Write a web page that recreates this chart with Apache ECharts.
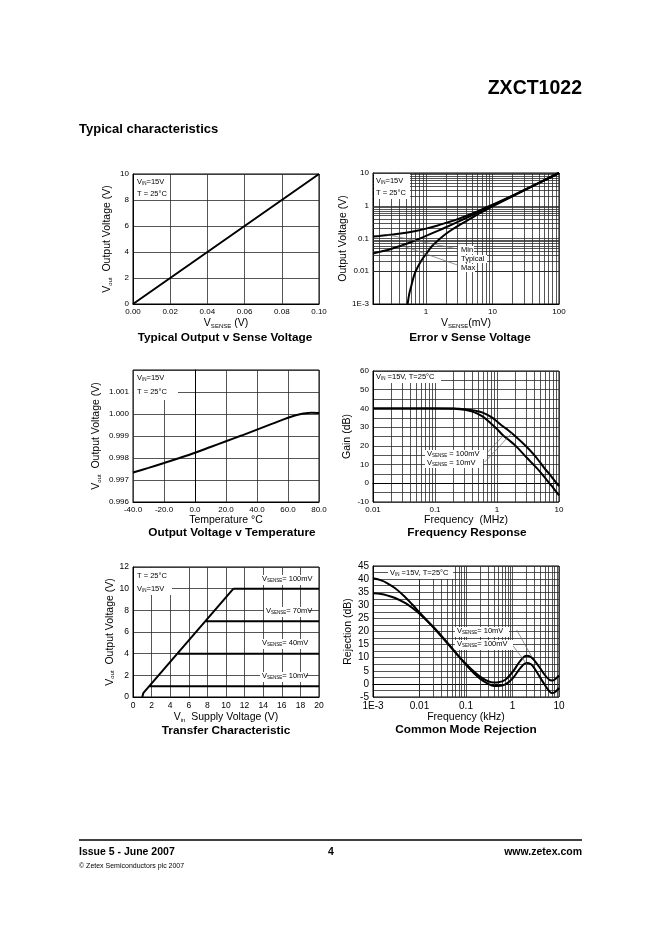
<!DOCTYPE html>
<html><head><meta charset="utf-8">
<script src="https://cdn.jsdelivr.net/npm/echarts@6/dist/echarts.min.js"></script>
<style>html,body{margin:0;padding:0;background:#fff}#c{width:662px;height:936px}</style>
</head><body><div id="c"></div>
<script>
// ================= DATA =================
// Chart 1: Typical Output v Sense Voltage
const c1Sense = [0, 0.02, 0.04, 0.06, 0.08, 0.10];
const c1Out = [0, 2, 4, 6, 8, 10];
const c1XTicks = [0, 0.02, 0.04, 0.06, 0.08, 0.10];
const c1XLabels = ['0.00', '0.02', '0.04', '0.06', '0.08', '0.10'];
const c1YTicks = [0, 2, 4, 6, 8, 10];
const c1YLabels = ['0', '2', '4', '6', '8', '10'];

// Chart 2: Error v Sense Voltage (x: mV, y: V)
const c2MaxX = [0.16, 0.2, 0.3, 0.5, 0.7, 1, 1.5, 2, 3, 5, 7, 10, 20, 50, 100];
const c2MaxY = [0.115, 0.12, 0.13, 0.15, 0.17, 0.2, 0.25, 0.3, 0.39, 0.58, 0.78, 1.08, 2.05, 5.0, 10.0];
const c2TypX = [0.16, 0.2, 0.3, 0.5, 0.7, 1, 1.5, 2, 3, 5, 7, 10, 20, 50, 100];
const c2TypY = [0.035, 0.039, 0.048, 0.068, 0.088, 0.12, 0.17, 0.22, 0.32, 0.52, 0.72, 1.02, 2.0, 5.0, 10.0];
const c2MinX = [0.53, 0.56, 0.6, 0.65, 0.7, 0.8, 0.9, 1, 1.2, 1.5, 2, 3, 5, 7, 10, 20, 50, 100];
const c2MinY = [0.001, 0.002, 0.0035, 0.0065, 0.01, 0.017, 0.025, 0.033, 0.055, 0.085, 0.14, 0.24, 0.44, 0.65, 0.95, 1.95, 5.0, 10.0];
const c2LeadMinX = [0.254, 3.27];
const c2LeadMinY = [0.132, 0.046];
const c2LeadMaxX = [0.43, 3.27];
const c2LeadMaxY = [0.061, 0.0145];
const c2XTicks = [1, 10, 100];
const c2XLabels = ['1', '10', '100'];
const c2YTicks = [0.001, 0.01, 0.1, 1, 10];
const c2YLabels = ['1E-3', '0.01', '0.1', '1', '10'];

// Chart 3: Output Voltage v Temperature
const c3Temp = [-40, -30, -20, -10, 0, 10, 20, 30, 40, 50, 60, 65, 70, 75, 80];
const c3Vout = [0.99734, 0.99755, 0.99777, 0.99800, 0.99824, 0.99850, 0.99876, 0.99902, 0.99929, 0.99956, 0.99983, 0.99994, 1.00002, 1.00006, 1.00004];
const c3XTicks = [-40, -20, 0, 20, 40, 60, 80];
const c3XLabels = ['-40.0', '-20.0', '0.0', '20.0', '40.0', '60.0', '80.0'];
const c3YTicks = [0.996, 0.997, 0.998, 0.999, 1.000, 1.001];
const c3YLabels = ['0.996', '0.997', '0.998', '0.999', '1.000', '1.001'];

// Chart 4: Frequency Response (x: MHz, y: dB)
const c4Freq = [0.01, 0.05, 0.1, 0.2, 0.3, 0.4, 0.5, 0.6, 0.8, 1, 1.26, 1.5, 2, 3, 4, 5, 6, 7, 8, 10];
const c4Gain100 = [40, 40, 40, 39.9, 39.6, 39.1, 38.4, 37.6, 35.5, 33, 30.3, 28.5, 25, 19.5, 15, 11, 7.5, 5, 2.5, -1.5];
const c4Gain10 = [40, 40, 40, 39.8, 39.3, 38.3, 37, 35.5, 32, 29, 25.5, 23.5, 20, 13.8, 9.5, 6, 2.8, 0, -2.3, -6.5];
const c4Lead100X = [0.64, 1.26];
const c4Lead100Y = [15.1, 25.5];
const c4Lead10X = [0.64, 1.73];
const c4Lead10Y = [11.5, 26.8];
const c4XTicks = [0.01, 0.1, 1, 10];
const c4XLabels = ['0.01', '0.1', '1', '10'];
const c4YTicks = [-10, 0, 10, 20, 30, 40, 50, 60];
const c4YLabels = ['-10', '0', '10', '20', '30', '40', '50', '60'];

// Chart 5: Transfer Characteristic
const c5RampVin = [1.0, 1.1, 10.8];
const c5RampOut = [0, 0.35, 10];
const c5L100Vin = [10.8, 20];
const c5L100Out = [10, 10];
const c5L70Vin = [7.85, 20];
const c5L70Out = [7, 7];
const c5L40Vin = [4.85, 20];
const c5L40Out = [4, 4];
const c5L10Vin = [1.8, 20];
const c5L10Out = [1, 1];
const c5XTicks = [0, 2, 4, 6, 8, 10, 12, 14, 16, 18, 20];
const c5XLabels = ['0', '2', '4', '6', '8', '10', '12', '14', '16', '18', '20'];
const c5YTicks = [0, 2, 4, 6, 8, 10, 12];
const c5YLabels = ['0', '2', '4', '6', '8', '10', '12'];

// Chart 6: Common Mode Rejection (x: kHz, y: dB)
const c6Freq = [0.001, 0.0015, 0.002, 0.003, 0.005, 0.007, 0.01, 0.02, 0.03, 0.05, 0.07, 0.1, 0.15, 0.2, 0.3, 0.4, 0.5, 0.7, 1, 1.5, 2, 2.5, 3, 4, 5, 6, 7, 8, 10];
const c6Rej10 = [40.3, 39.5, 38.5, 36.5, 33, 30.3, 27.3, 21.5, 18, 13.5, 10.5, 7.6, 4.6, 2.8, 1, 0.5, 0.6, 1.6, 4.5, 9, 10.7, 10.2, 8.8, 5.8, 3.3, 1.8, 1.3, 1.6, 3.2];
const c6Rej100 = [34.6, 34.3, 33.8, 32.8, 30.8, 29, 26.8, 21.7, 18.2, 13.6, 10.5, 7.3, 4, 2, 0, -0.8, -0.8, -0.2, 2, 6.2, 8, 7.5, 5.8, 2.2, -0.5, -2.5, -3.5, -3.3, -1.5];
const c6Lead10X = [1.23, 2.59];
const c6Lead10Y = [20.6, 10.4];
const c6Lead100X = [1.0, 2.02];
const c6Lead100Y = [14.8, 7.6];
const c6XTicks = [0.001, 0.01, 0.1, 1, 10];
const c6XLabels = ['1E-3', '0.01', '0.1', '1', '10'];
const c6YTicks = [-5, 0, 5, 10, 15, 20, 25, 30, 35, 40, 45];
const c6YLabels = ['-5', '0', '5', '10', '15', '20', '25', '30', '35', '40', '45'];

// ================= HELPERS =================
const FONT = '"Liberation Sans", Arial, Helvetica, sans-serif';
const GRIDC = '#2b2b2b';
function pairs(xs, ys) { return xs.map((x, i) => [x, ys[i]]); }
function fmt(ticks, labels, isLog) {
  return function (v) {
    for (let i = 0; i < ticks.length; i++) {
      if (isLog) { if (Math.abs(Math.log10(v) - Math.log10(ticks[i])) < 1e-6) return labels[i]; }
      else if (Math.abs(v - ticks[i]) < 1e-7) return labels[i];
    }
    return '';
  };
}
function logLines(e0, e1, from) {
  const out = [];
  for (let e = e0; e <= e1; e++) {
    for (let k = 1; k <= 9; k++) {
      const v = k * Math.pow(10, e);
      if (v >= from * 1.0001 && e + Math.log10(k) <= e1 + 1e-9) out.push(+v.toPrecision(6));
    }
  }
  return out;
}
function richSet(fs, sub, drop) {
  return {
    n: { fontSize: fs, fontFamily: FONT, color: '#000', fill: '#000', lineHeight: fs + 1, verticalAlign: 'top' },
    s: { fontSize: sub, fontFamily: FONT, color: '#000', fill: '#000', lineHeight: sub, verticalAlign: 'bottom', padding: [drop, 0, 0, 0] }
  };
}
const nameRich = richSet(10.5, 6, 6);
const nameStyle = { fontFamily: FONT, fontSize: 10.5, color: '#000', rich: nameRich };

function grid(left, top, width, height) {
  return { left, top, width, height, show: true, borderColor: '#000', borderWidth: 1, containLabel: false };
}
function linAxis(gi, min, max, interval, ticks, labels, fs, extra) {
  return Object.assign({
    type: 'value', gridIndex: gi, min, max, interval,
    axisLine: { show: true, lineStyle: { color: '#000', width: 1 } },
    axisTick: { show: false },
    axisLabel: { fontFamily: FONT, fontSize: fs, color: '#000', margin: 4, formatter: fmt(ticks, labels, false) },
    splitLine: { show: true, lineStyle: { color: GRIDC, width: 0.8 } },
    nameTextStyle: nameStyle, nameLocation: 'middle'
  }, extra || {});
}
function logAxis(gi, min, max, ticks, labels, fs, extra) {
  return Object.assign({
    type: 'log', logBase: 10, gridIndex: gi, min, max,
    axisLine: { show: true, lineStyle: { color: '#000', width: 1 } },
    axisTick: { show: false },
    axisLabel: { fontFamily: FONT, fontSize: fs, color: '#000', margin: 4, formatter: fmt(ticks, labels, true), showMinLabel: true, showMaxLabel: true },
    splitLine: { show: false },
    nameTextStyle: nameStyle, nameLocation: 'middle'
  }, extra || {});
}
function curve(xi, yi, data, w, smooth) {
  return { type: 'line', xAxisIndex: xi, yAxisIndex: yi, data, showSymbol: false, symbol: 'none', smooth: smooth ? 0.35 : false,
    lineStyle: { color: '#000', width: w || 2 }, z: 5, silent: true, clip: true };
}
function leader(xi, yi, data) {
  return { type: 'line', xAxisIndex: xi, yAxisIndex: yi, data, showSymbol: false, symbol: 'none',
    lineStyle: { color: '#666', width: 0.7 }, z: 6, silent: true };
}
function gridLines(xi, yi, xs, ys, anchor) {
  const d = [];
  xs.forEach(v => d.push({ xAxis: v }));
  ys.forEach(v => d.push({ yAxis: v }));
  return { type: 'line', xAxisIndex: xi, yAxisIndex: yi, data: [anchor], showSymbol: false, symbol: 'none',
    lineStyle: { opacity: 0 }, z: 1, silent: true,
    markLine: { silent: true, symbol: ['none', 'none'], animation: false, label: { show: false },
      lineStyle: { color: GRIDC, width: 0.8, type: 'solid' }, emphasis: { disabled: true }, data: d } };
}

// ================= GRAPHIC TEXT =================
const G = [];
function T(x, y, text, font, align, extra) {
  const st = Object.assign({ text, x, y, font, fill: '#000', textAlign: align || 'left', align: align || 'left',
    textVerticalAlign: 'middle', verticalAlign: 'middle' }, extra || {});
  G.push({ type: 'text', z: 100, silent: true, style: st });
}
function R(x, y, w, h) {
  G.push({ type: 'rect', z: 90, silent: true, shape: { x, y, width: w, height: h }, style: { fill: '#fff' } });
}
const annRich = richSet(7.5, 4.5, 4);
function A(x, y, text, align) {
  T(x, y, text, '7.5px ' + FONT, align || 'left', { rich: annRich });
}

// page header / footer
T(582, 89, 'ZXCT1022', 'bold 19.5px ' + FONT, 'right');
T(79, 129, 'Typical characteristics', 'bold 13px ' + FONT, 'left');
G.push({ type: 'line', z: 100, silent: true, shape: { x1: 79, y1: 840, x2: 582, y2: 840 }, style: { stroke: '#000', lineWidth: 1.5 } });
T(79, 852, 'Issue 5 - June 2007', 'bold 10.5px ' + FONT, 'left');
T(331, 852, '4', 'bold 10.5px ' + FONT, 'center');
T(582, 852, 'www.zetex.com', 'bold 10.5px ' + FONT, 'right');
T(79, 866, '\u00A9 Zetex Semiconductors plc 2007', '7px ' + FONT, 'left');

// chart titles
const TF = 'bold 11.8px ' + FONT;
T(225, 338, 'Typical Output v Sense Voltage', TF, 'center');
T(470, 338, 'Error v Sense Voltage', TF, 'center');
T(232, 533, 'Output Voltage v Temperature', TF, 'center');
T(467, 533, 'Frequency Response', TF, 'center');
T(226, 731, 'Transfer Characteristic', TF, 'center');
T(466, 730, 'Common Mode Rejection', TF, 'center');

// annotation boxes
R(134, 175, 34, 25);
A(137, 182, '{n|V}{s|IN}{n|=15V}');
A(137, 194, '{n|T = 25\u00B0C}');
R(374, 174, 36, 25);
A(376, 181, '{n|V}{s|IN}{n|=15V}');
A(376, 193, '{n|T = 25\u00B0C}');
R(134, 371, 44, 29);
A(137, 378, '{n|V}{s|IN}{n|=15V}');
A(137, 392, '{n|T = 25\u00B0C}');
R(374, 372, 67, 11);
A(376, 377, '{n|V}{s|IN}{n| =15V, T=25\u00B0C}');
R(134, 568, 38, 27);
A(137, 576, '{n|T = 25\u00B0C}');
A(137, 589, '{n|V}{s|IN}{n|=15V}');
R(388, 567, 65, 12);
A(390, 573, '{n|V}{s|IN}{n| =15V, T=25\u00B0C}');

// in-chart curve labels
R(458, 246, 16, 8); A(461, 250, '{n|Min}');
R(458, 255, 29, 8); A(461, 259, '{n|Typical}');
R(458, 264, 17, 8); A(461, 268, '{n|Max}');
R(425, 450, 62, 9); A(427, 454, '{n|V}{s|SENSE}{n| = 100mV}');
R(425, 459, 58, 9); A(427, 463, '{n|V}{s|SENSE}{n| = 10mV}');
R(260, 575, 50, 10); A(262, 579, '{n|V}{s|SENSE}{n|= 100mV}');
R(264, 607, 45, 10); A(266, 611, '{n|V}{s|SENSE}{n|= 70mV}');
R(260, 639, 44, 10); A(262, 643, '{n|V}{s|SENSE}{n|= 40mV}');
R(260, 672, 46, 10); A(262, 676, '{n|V}{s|SENSE}{n|= 10mV}');
R(455, 627, 54, 10); A(457, 631, '{n|V}{s|SENSE}{n|= 10mV}');
R(455, 640, 58, 10); A(457, 644, '{n|V}{s|SENSE}{n|= 100mV}');

// ================= OPTION =================
const option = {
  animation: false,
  backgroundColor: '#fff',
  grid: [
    grid(133, 174, 186, 130),
    grid(373, 173, 186, 131),
    grid(133, 370, 186, 132),
    grid(373, 371, 186, 131),
    grid(133, 567, 186, 130),
    grid(373, 566, 186, 131)
  ],
  xAxis: [
    linAxis(0, 0, 0.1, 0.02, c1XTicks, c1XLabels, 8, { name: '{n|V}{s|SENSE}{n| (V)}', nameGap: 11 }),
    logAxis(1, 0.16, 100, c2XTicks, c2XLabels, 8, { name: '{n|V}{s|SENSE}{n|(mV)}', nameGap: 11 }),
    linAxis(2, -40, 80, 20, c3XTicks, c3XLabels, 8, { name: '{n|Temperature \u00B0C}', nameGap: 12 }),
    logAxis(3, 0.01, 10, c4XTicks, c4XLabels, 8, { name: '{n|Frequency  (MHz)}', nameGap: 12 }),
    linAxis(4, 0, 20, 2, c5XTicks, c5XLabels, 8.5, { name: '{n|V}{s|in}{n|  Supply Voltage (V)}', nameGap: 12 }),
    logAxis(5, 0.001, 10, c6XTicks, c6XLabels, 10, { name: '{n|Frequency (kHz)}', nameGap: 13 })
  ],
  yAxis: [
    linAxis(0, 0, 10, 2, c1YTicks, c1YLabels, 8, { name: '{n|V}{s|out}{n|  Output Voltage (V)}', nameGap: 20 }),
    logAxis(1, 0.001, 10, c2YTicks, c2YLabels, 8, { name: '{n|Output Voltage (V)}', nameGap: 24 }),
    linAxis(2, 0.996, 1.002, 0.001, c3YTicks, c3YLabels, 8, { name: '{n|V}{s|out}{n|  Output Voltage (V)}', nameGap: 31 }),
    linAxis(3, -10, 60, 10, c4YTicks, c4YLabels, 8, { name: '{n|Gain (dB)}', nameGap: 20,
      minorTick: { show: false, splitNumber: 2 }, minorSplitLine: { show: true, lineStyle: { color: GRIDC, width: 0.8 } } }),
    linAxis(4, 0, 12, 2, c5YTicks, c5YLabels, 8.5, { name: '{n|V}{s|out}{n|  Output Voltage (V)}', nameGap: 17 }),
    linAxis(5, -5, 45, 5, c6YTicks, c6YLabels, 10, { name: '{n|Rejection (dB)}', nameGap: 19,
      minorTick: { show: false, splitNumber: 2 }, minorSplitLine: { show: true, lineStyle: { color: GRIDC, width: 0.8 } } })
  ],
  series: [
    gridLines(1, 1, logLines(-1, 2, 0.16), logLines(-3, 1, 0.001), [1, 1]),
    gridLines(3, 3, logLines(-2, 1, 0.01), [], [1, 40]),
    gridLines(5, 5, logLines(-3, 1, 0.001), [], [1, 0]),

    curve(0, 0, pairs(c1Sense, c1Out), 2, false),

    curve(1, 1, pairs(c2MaxX, c2MaxY), 2, true),
    curve(1, 1, pairs(c2TypX, c2TypY), 2, true),
    curve(1, 1, pairs(c2MinX, c2MinY), 2, true),
    leader(1, 1, pairs(c2LeadMinX, c2LeadMinY)),
    leader(1, 1, pairs(c2LeadMaxX, c2LeadMaxY)),

    curve(2, 2, pairs(c3Temp, c3Vout), 2, true),

    curve(3, 3, pairs(c4Freq, c4Gain100), 2, true),
    curve(3, 3, pairs(c4Freq, c4Gain10), 2, true),
    leader(3, 3, pairs(c4Lead100X, c4Lead100Y)),
    leader(3, 3, pairs(c4Lead10X, c4Lead10Y)),

    curve(4, 4, pairs(c5RampVin, c5RampOut), 2, false),
    curve(4, 4, pairs(c5L100Vin, c5L100Out), 2, false),
    curve(4, 4, pairs(c5L70Vin, c5L70Out), 2, false),
    curve(4, 4, pairs(c5L40Vin, c5L40Out), 2, false),
    curve(4, 4, pairs(c5L10Vin, c5L10Out), 2, false),

    curve(5, 5, pairs(c6Freq, c6Rej10), 2, true),
    curve(5, 5, pairs(c6Freq, c6Rej100), 2, true),
    leader(5, 5, pairs(c6Lead10X, c6Lead10Y)),
    leader(5, 5, pairs(c6Lead100X, c6Lead100Y))
  ],
  graphic: { elements: G }
};

const chart = echarts.init(document.getElementById('c'), null, { renderer: 'canvas', width: 662, height: 936 });
chart.setOption(option);
</script>
</body></html>
